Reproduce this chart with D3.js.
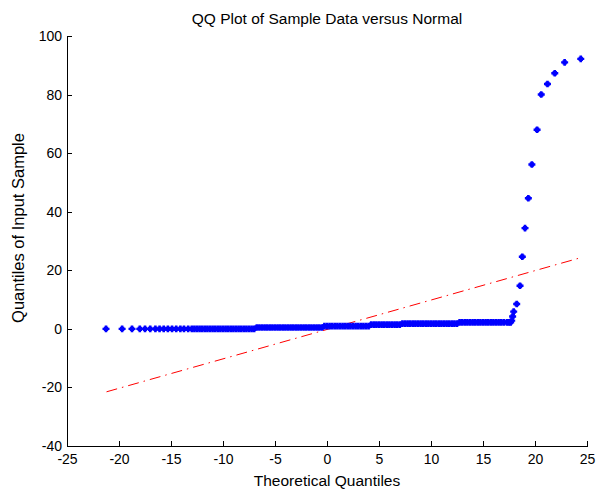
<!DOCTYPE html>
<html>
<head>
<meta charset="utf-8">
<script src="https://cdn.jsdelivr.net/npm/d3@7"></script>
<style>
  html, body { margin: 0; padding: 0; background: #fff; }
  svg { display: block; }
  text { font-family: "Liberation Sans", Arial, sans-serif; fill: #000; }
</style>
</head>
<body>
<div id="chart"></div>
<script>
// ---- Data ----
const title = "QQ Plot of Sample Data versus Normal";
const xLabel = "Theoretical Quantiles";
const yLabel = "Quantiles of Input Sample";
const xTicks = [-25, -20, -15, -10, -5, 0, 5, 10, 15, 20, 25];
const yTicks = [-40, -20, 0, 20, 40, 60, 80, 100];

// sample levels of the flat part and the theoretical quantiles plotted at each level
const levelValues = [0, 0.45, 0.95, 1.45, 1.8, 2.2];
const level0Q = [-21.25, -19.7, -18.75, -18.0, -17.5, -17.0, -16.5, -16.1, -15.7, -15.3, -14.9, -14.5, -14.1, -13.75, -13.35,
  -13, -12.75, -12.5, -12.25, -12, -11.75, -11.5, -11.25, -11, -10.75, -10.5, -10.25, -10, -9.75, -9.5, -9.25, -9,
  -8.75, -8.5, -8.25, -8, -7.75, -7.5, -7.25, -7];
const level1Q = [-6.75, -6.5, -6.25, -6, -5.75, -5.5, -5.25, -5, -4.75, -4.5, -4.25, -4, -3.75, -3.5, -3.25, -3,
  -2.75, -2.5, -2.25, -2, -1.75, -1.5, -1.25, -1, -0.75, -0.5];
const level2Q = [-0.25, 0, 0.25, 0.5, 0.75, 1, 1.25, 1.5, 1.75, 2, 2.25, 2.5, 2.75, 3, 3.25, 3.5, 3.75, 4];
const level3Q = [4.25, 4.5, 4.75, 5, 5.25, 5.5, 5.75, 6, 6.25, 6.5, 6.75, 7];
const level4Q = [7.25, 7.5, 7.75, 8, 8.25, 8.5, 8.75, 9, 9.25, 9.5, 9.75, 10, 10.25, 10.5, 10.75, 11, 11.25, 11.5,
  11.75, 12, 12.25, 12.5];
const level5Q = [12.75, 13, 13.25, 13.5, 13.75, 14, 14.25, 14.5, 14.75, 15, 15.25, 15.5, 15.75,
  16.0, 16.25, 16.5, 16.75, 17.0, 17.3, 17.5, 17.66];

// upper tail
const tailQ = [17.76, 17.85, 17.95, 18.24, 18.56, 18.78, 19.04, 19.36, 19.7, 20.2, 20.6, 21.2, 21.9, 22.85, 24.4];
const tailSample = [2.8, 4.2, 5.9, 8.5, 14.7, 24.6, 34.4, 44.6, 56.1, 68.0, 80.0, 83.6, 87.3, 91.0, 92.2];

// reference line end points
const refLineQ = [-21.2, 24.3];
const refLineSample = [-21.5, 24.2];

// ---- Build point list ----
const levelQs = [level0Q, level1Q, level2Q, level3Q, level4Q, level5Q];
const points = [];
levelQs.forEach((qs, i) => qs.forEach(q => points.push({ q, s: levelValues[i] })));
tailQ.forEach((q, i) => points.push({ q, s: tailSample[i] }));

// ---- Layout ----
const W = 598, H = 494;
const mLeft = 67, mRight = 587, mTop = 36, mBottom = 446;

const svg = d3.select("#chart").append("svg").attr("width", W).attr("height", H);

const x = d3.scaleLinear().domain([-25, 25]).range([mLeft, mRight]);
const y = d3.scaleLinear().domain([-40, 100]).range([mBottom, mTop]);

// reference line (red dash-dot)
svg.append("line")
  .attr("x1", x(refLineQ[0])).attr("y1", y(refLineSample[0]))
  .attr("x2", x(refLineQ[1])).attr("y2", y(refLineSample[1]))
  .attr("stroke", "#ff0000").attr("stroke-width", 1)
  .attr("stroke-dasharray", "11,5,1.5,5");

// markers (blue plus with a thick centre)
const marker = "M-3.5,-1.2H-2.2V-2.2H-1.3V-3.3H1.3V-2.2H2.2V-1.2H3.5V1.2H2.2V2.2H1.3V3.3H-1.3V2.2H-2.2V1.2H-3.5Z";
svg.append("g").selectAll("path").data(points).join("path")
  .attr("d", marker)
  .attr("transform", d => `translate(${x(d.q)},${y(d.s)})`)
  .attr("fill", "#0000ff");

// axes
const fmt = d => String(d);
const xAxis = d3.axisBottom(x).tickValues(xTicks).tickFormat(fmt).tickSizeInner(-5).tickSizeOuter(0).tickPadding(8);
const yAxis = d3.axisLeft(y).tickValues(yTicks).tickFormat(fmt).tickSizeInner(-5).tickSizeOuter(0).tickPadding(5);

const gx = svg.append("g").attr("transform", `translate(0,${mBottom})`).call(xAxis);
const gy = svg.append("g").attr("transform", `translate(${mLeft},0)`).call(yAxis);
[gx, gy].forEach(g => {
  g.select(".domain").attr("stroke", "#000").attr("stroke-width", 1).attr("shape-rendering", "crispEdges");
  g.selectAll(".tick line").attr("stroke", "#000").attr("shape-rendering", "crispEdges");
  g.selectAll(".tick text").attr("font-size", 14).attr("font-family", "'Liberation Sans', Arial, sans-serif").attr("fill", "#000");
});

// title & labels
svg.append("text").attr("x", (mLeft + mRight) / 2).attr("y", 24)
  .attr("text-anchor", "middle").attr("font-size", 15.5).text(title);
svg.append("text").attr("x", (mLeft + mRight) / 2).attr("y", 486)
  .attr("text-anchor", "middle").attr("font-size", 15.5).text(xLabel);
svg.append("text").attr("transform", `translate(24,${(mTop + mBottom) / 2 - 13}) rotate(-90)`)
  .attr("text-anchor", "middle").attr("font-size", 16.5).text(yLabel);
</script>
</body>
</html>
